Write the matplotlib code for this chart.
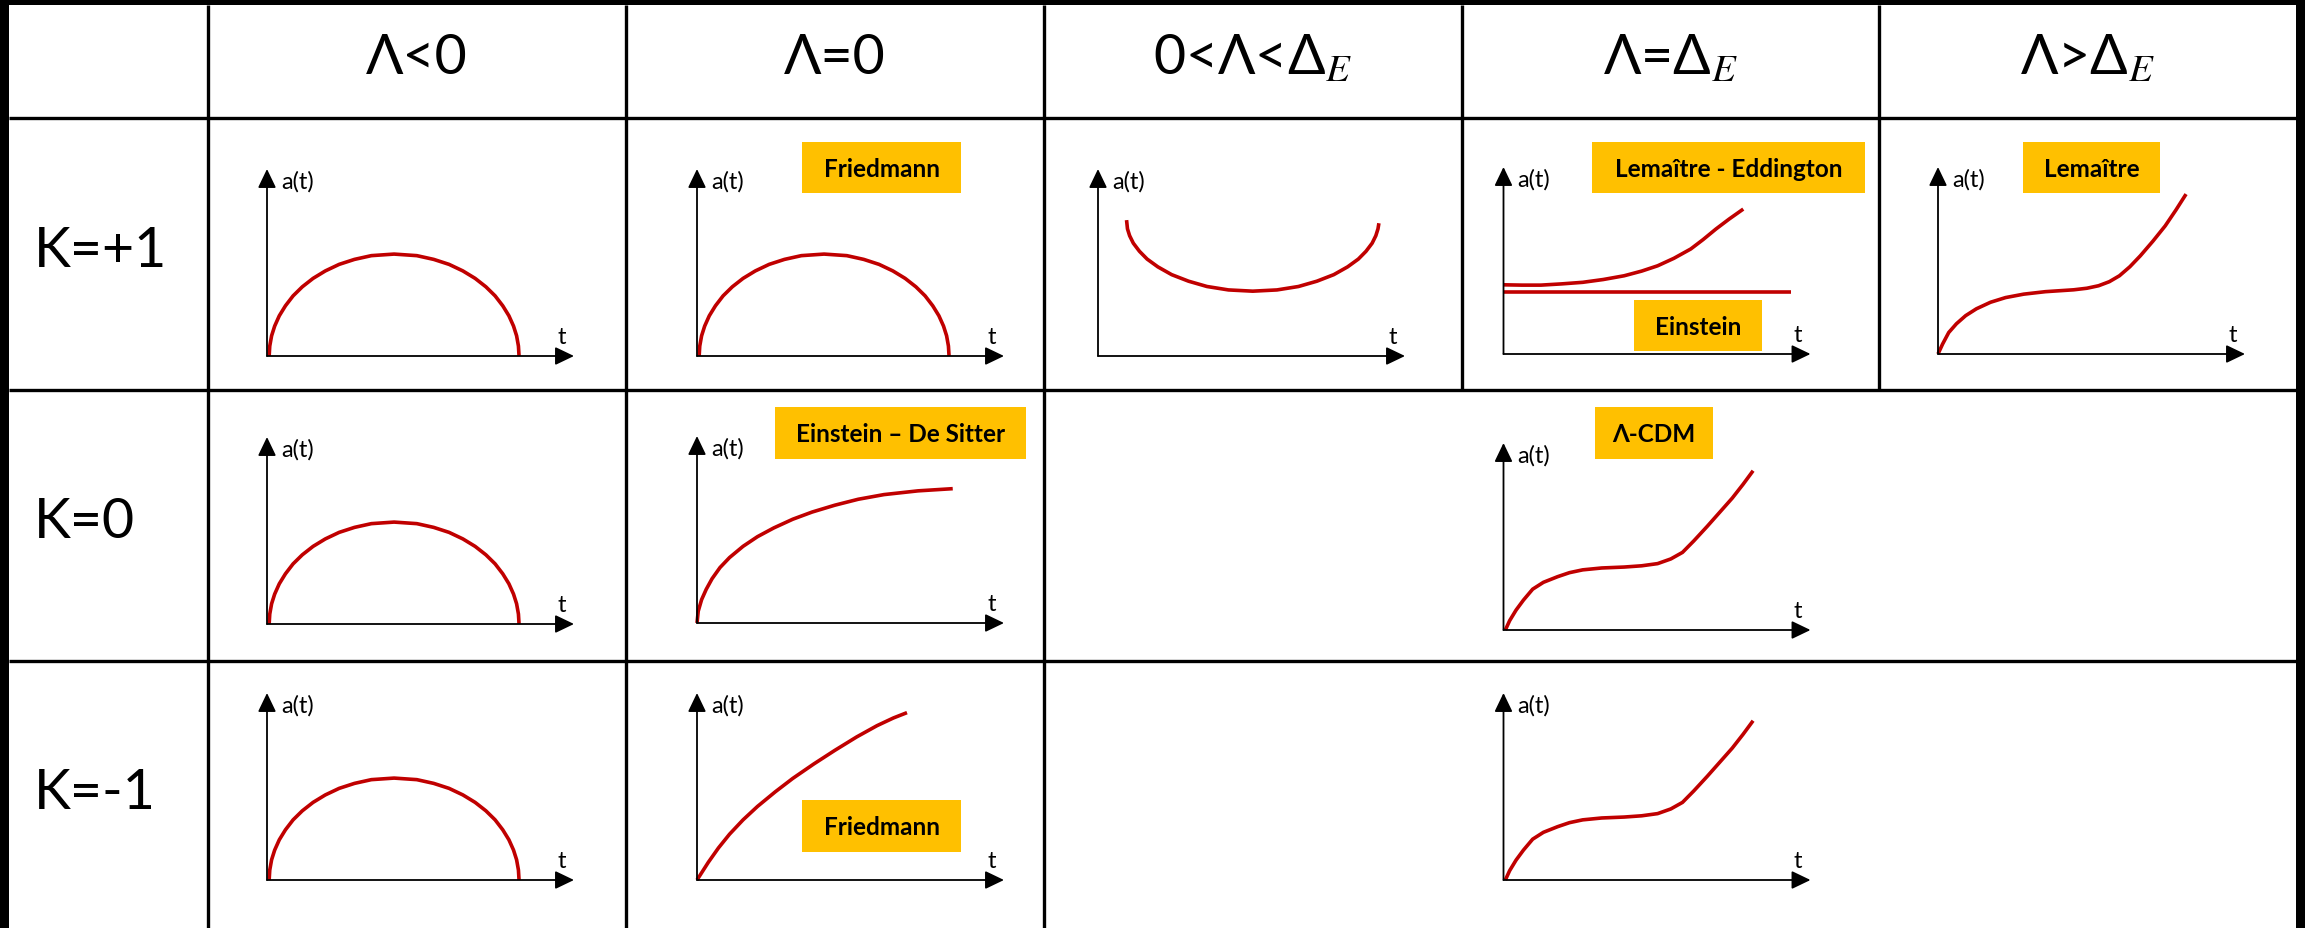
import matplotlib.pyplot as plt
from matplotlib.patches import Rectangle

plt.rcParams["font.family"] = ["Lato", "DejaVu Sans"]
plt.rcParams["mathtext.fontset"] = "stix"

# table headings
col_heads = ["Λ<0", "Λ=0", "0<Λ<Δ$_E$", "Λ=Δ$_E$", "Λ>Δ$_E$"]
row_heads = ["K=+1", "K=0", "K=-1"]

# a(t) sketches, t on 0..10, a on 0..6
closed_t = [0.07, 0.09, 0.15, 0.25, 0.4, 0.6, 0.85, 1.15, 1.5, 1.9, 2.35, 2.85,
            3.4, 4.14, 4.88, 5.43, 5.93, 6.38, 6.78, 7.13, 7.43, 7.68, 7.88,
            8.03, 8.13, 8.19, 8.21]
closed_a = [0, 0.32, 0.65, 0.96, 1.29, 1.61, 1.93, 2.22, 2.49, 2.73, 2.94, 3.10,
            3.22, 3.27, 3.22, 3.10, 2.94, 2.73, 2.49, 2.22, 1.93, 1.61, 1.29,
            0.96, 0.65, 0.32, 0]

bounce_t = [0.93, 0.96, 1.03, 1.15, 1.35, 1.6, 1.95, 2.4, 2.95, 3.55, 4.25, 5.04,
            5.83, 6.53, 7.13, 7.68, 8.13, 8.48, 8.73, 8.93, 9.05, 9.12, 9.15]
bounce_a = [4.36, 4.08, 3.86, 3.62, 3.36, 3.11, 2.86, 2.61, 2.40, 2.23, 2.12, 2.08,
            2.12, 2.23, 2.40, 2.61, 2.86, 3.11, 3.36, 3.62, 3.86, 4.08, 4.26]

edd_t = [0, 0.6, 1.22, 1.9, 2.58, 3.25, 3.93, 4.5, 5.02, 5.55, 6.10, 6.5, 6.92,
         7.35, 7.81]
edd_a = [2.22, 2.21, 2.21, 2.25, 2.30, 2.39, 2.51, 2.66, 2.83, 3.07, 3.37, 3.67,
         4.01, 4.33, 4.65]

static_t = [0, 9.36]
static_a = [1.98, 1.98]

lem_t = [0, 0.15, 0.35, 0.6, 0.90, 1.25, 1.71, 2.2, 2.79, 3.5, 4.42, 4.85, 5.23,
         5.58, 5.91, 6.25, 6.59, 7.0, 7.40, 7.75, 8.08]
lem_a = [0, 0.32, 0.69, 0.97, 1.23, 1.45, 1.66, 1.81, 1.92, 2.00, 2.06, 2.11, 2.19,
         2.32, 2.51, 2.80, 3.15, 3.62, 4.11, 4.62, 5.13]

lcdm_t = [0.06, 0.2, 0.41, 0.65, 0.95, 1.3, 1.76, 2.15, 2.58, 3.2, 3.93, 4.5, 5.02,
          5.45, 5.83, 6.2, 6.64, 7.0, 7.45, 7.8, 8.13]
lcdm_a = [0, 0.30, 0.64, 0.96, 1.31, 1.53, 1.71, 1.84, 1.93, 1.99, 2.02, 2.06, 2.13,
          2.28, 2.49, 2.86, 3.33, 3.73, 4.23, 4.67, 5.11]

eds_t = [0, 0.04, 0.15, 0.3, 0.49, 0.75, 1.06, 1.5, 1.97, 2.5, 3.12, 3.75, 4.49,
         5.25, 6.09, 7.2, 8.33]
eds_a = [0, 0.38, 0.75, 1.08, 1.42, 1.78, 2.10, 2.46, 2.77, 3.05, 3.33, 3.56, 3.78,
         3.97, 4.12, 4.24, 4.31]

open_t = [0, 0.37, 0.7, 1.06, 1.5, 1.97, 2.55, 3.12, 3.8, 4.49, 5.2, 5.86, 6.4, 6.84]
open_a = [0, 0.57, 1.03, 1.47, 1.93, 2.36, 2.83, 3.26, 3.72, 4.16, 4.59, 4.95, 5.20,
          5.37]

# named solutions
box_labels = ["Friedmann", "Lemaître - Eddington", "Einstein", "Lemaître",
              "Einstein – De Sitter", "Λ-CDM", "Friedmann"]

W, H = 2305, 929
RED = "#C00000"
GOLD = "#FFC000"

fig = plt.figure(figsize=(W / 100, H / 100), dpi=100, facecolor="black")
ax = fig.add_axes([0, 0, 1, 1])
ax.set_xlim(0, W)
ax.set_ylim(H, 0)
ax.axis("off")
ax.add_patch(Rectangle((9, 6), 2296 - 9, H - 6, facecolor="white", edgecolor="none"))

# grid
col_x = [208, 626, 1044, 1462, 1879, 2296]
row_y = [119, 391, 662]
for y in row_y:
    ax.plot([9, 2296], [y, y], color="black", lw=2.4, solid_capstyle="butt")
for x in col_x[:3]:
    ax.plot([x, x], [6, H], color="black", lw=2.4, solid_capstyle="butt")
for x in col_x[3:5]:
    ax.plot([x, x], [6, 391], color="black", lw=2.4, solid_capstyle="butt")

for i, lab in enumerate(col_heads):
    cx = (col_x[i] + col_x[i + 1]) / 2
    ax.text(cx, 74, lab, ha="center", va="baseline", fontsize=40)
for lab, yb in zip(row_heads, [267, 538, 809]):
    ax.text(34, yb, lab, ha="left", va="baseline", fontsize=40)

# label boxes (x, y, w, h in pixels)
box_pos = [(802, 143, 159, 51), (1592, 143, 273, 51), (1634, 301, 128, 51),
           (2023, 143, 137, 51), (775, 408, 251, 52), (1595, 408, 118, 52),
           (802, 801, 159, 52)]
for lab, (bx, by, bw, bh) in zip(box_labels, box_pos):
    ax.add_patch(Rectangle((bx, by), bw, bh, facecolor=GOLD, edgecolor="none"))
    ax.text(bx + bw / 2, by + bh / 2 + 1, lab, ha="center", va="center",
            fontsize=17.5, fontweight="bold")

arrow = dict(arrowstyle="-|>,head_length=0.5,head_width=0.24", mutation_scale=23,
             lw=1.3, color="black", shrinkA=0, shrinkB=0)


def mini_plot(x0, y0, curves):
    a = fig.add_axes([x0 / W, 1 - y0 / H, 307 / W, 187 / H])
    a.set_xlim(0, 10)
    a.set_ylim(0, 6)
    a.axis("off")
    a.patch.set_visible(False)
    a.annotate("", xy=(0, 6), xytext=(0, 0), arrowprops=arrow)
    a.annotate("", xy=(10, 0), xytext=(0, 0), arrowprops=arrow)
    a.text(0.45, 5.95, "a(t)", ha="left", va="top", fontsize=17)
    a.text(9.6, 0.3, "t", ha="center", va="bottom", fontsize=17)
    for t, v in curves:
        a.plot(t, v, color=RED, lw=2.6, clip_on=False,
               solid_joinstyle="round", solid_capstyle="butt")


closed = (closed_t, closed_a)
lcdm = (lcdm_t, lcdm_a)
mini_plot(267, 357, [closed])
mini_plot(697, 357, [closed])
mini_plot(1098, 357, [(bounce_t, bounce_a)])
mini_plot(1503.5, 355, [(edd_t, edd_a), (static_t, static_a)])
mini_plot(1938, 355, [(lem_t, lem_a)])
mini_plot(267, 625, [closed])
mini_plot(697, 624, [(eds_t, eds_a)])
mini_plot(1503.5, 631, [lcdm])
mini_plot(267, 881, [closed])
mini_plot(697, 881, [(open_t, open_a)])
mini_plot(1503.5, 881, [lcdm])

fig.savefig("out.png", dpi=100, facecolor=fig.get_facecolor())
